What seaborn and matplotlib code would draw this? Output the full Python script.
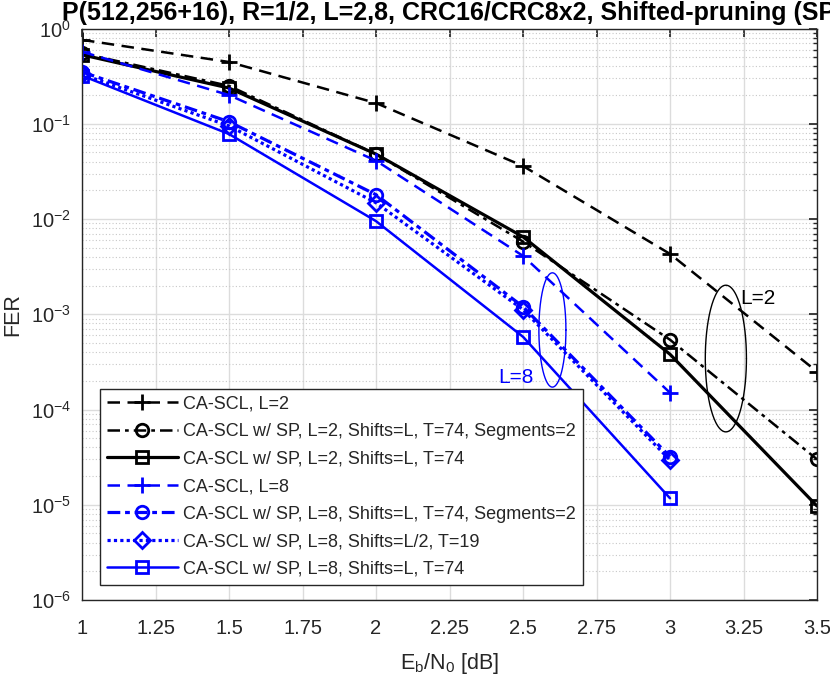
import numpy as np
import pandas as pd
import matplotlib
matplotlib.use("Agg")
import matplotlib.pyplot as plt
import matplotlib.ticker as mticker
import seaborn as sns

# ---- data ----
ebn0 = [1.0, 1.5, 2.0, 2.5, 3.0, 3.5]
ebn0_l8 = [1.0, 1.5, 2.0, 2.5, 3.0]

fer_cascl_l2 = [0.76, 0.445, 0.165, 0.036, 0.0043, 2.5e-4]
fer_sp_l2_seg = [0.55, 0.25, 0.048, 0.0058, 5.4e-4, 3.0e-5]
fer_sp_l2 = [0.53, 0.237, 0.048, 0.0065, 3.8e-4, 9.7e-6]
fer_cascl_l8 = [0.57, 0.20, 0.041, 0.0041, 1.5e-4]
fer_sp_l8_seg = [0.35, 0.105, 0.018, 0.0012, 3.2e-5]
fer_sp_l8_half = [0.33, 0.095, 0.0148, 0.00112, 2.95e-5]
fer_sp_l8 = [0.32, 0.078, 0.0095, 5.8e-4, 1.17e-5]

labels = [
    "CA-SCL, L=2",
    "CA-SCL w/ SP, L=2, Shifts=L, T=74, Segments=2",
    "CA-SCL w/ SP, L=2, Shifts=L, T=74",
    "CA-SCL, L=8",
    "CA-SCL w/ SP, L=8, Shifts=L, T=74, Segments=2",
    "CA-SCL w/ SP, L=8, Shifts=L/2, T=19",
    "CA-SCL w/ SP, L=8, Shifts=L, T=74",
]
xticks = [1, 1.25, 1.5, 1.75, 2, 2.25, 2.5, 2.75, 3, 3.25, 3.5]
xticklabels = ["1", "1.25", "1.5", "1.75", "2", "2.25", "2.5", "2.75", "3", "3.25", "3.5"]
title = "P(512,256+16), R=1/2, L=2,8, CRC16/CRC8x2, Shifted-pruning (SP)"

sns.set_theme(style="white")
plt.rcParams["font.family"] = ["Liberation Sans", "DejaVu Sans"]
plt.rcParams["mathtext.fontset"] = "custom"
plt.rcParams["mathtext.rm"] = "Liberation Sans"
plt.rcParams["mathtext.it"] = "Liberation Sans"

fig = plt.figure(figsize=(8.3, 6.82), dpi=100)
ax = fig.add_axes([82 / 830, 1 - 600 / 682, 735 / 830, 571.5 / 682])

series = [
    (ebn0, fer_cascl_l2, "black", (0, (5, 3)), "+", 1.8, 11),
    (ebn0, fer_sp_l2_seg, "black", (0, (5, 2, 1.5, 2)), "o", 1.8, 9),
    (ebn0, fer_sp_l2, "black", "-", "s", 2.3, 8),
    (ebn0_l8, fer_cascl_l8, "blue", (0, (5, 3)), "+", 1.8, 11),
    (ebn0_l8, fer_sp_l8_seg, "blue", (0, (4, 1.5, 1.5, 1.5)), "o", 2.3, 9),
    (ebn0_l8, fer_sp_l8_half, "blue", (0, (1, 1)), "D", 2.3, 8),
    (ebn0_l8, fer_sp_l8, "blue", "-", "s", 1.8, 8),
]
for (xs, ys, c, ls, mk, lw, ms), lab in zip(series, labels):
    df = pd.DataFrame({"x": xs, "y": ys})
    sns.lineplot(data=df, x="x", y="y", ax=ax, color=c, linestyle=ls,
                 marker=mk, markersize=ms, markerfacecolor="none",
                 markeredgecolor=c, markeredgewidth=2, linewidth=lw,
                 label=lab, legend=False)

ax.set_yscale("log")
ax.set_xlim(1, 3.5)
ax.set_ylim(1e-6, 1)
ax.set_xticks(xticks)
ax.set_xticklabels(xticklabels)
ax.yaxis.set_major_locator(mticker.LogLocator(base=10, numticks=10))
ax.yaxis.set_minor_locator(mticker.LogLocator(base=10, subs=np.arange(2, 10), numticks=100))
ax.yaxis.set_minor_formatter(mticker.NullFormatter())

ax.grid(True, which="major", color="#dcdcdc", linestyle="-", linewidth=1.0)
ax.grid(True, which="minor", axis="y", color="#c8c8c8", linestyle=(0, (1, 2)), linewidth=0.8)
ax.set_axisbelow(True)
for s in ax.spines.values():
    s.set_color("#262626")
    s.set_linewidth(1.0)
ax.tick_params(which="both", direction="in", top=True, right=True, labelsize=14.5,
               colors="#262626", labelcolor="#262626")
ax.tick_params(which="major", length=6)
ax.tick_params(which="minor", length=3)
ax.tick_params(axis="x", pad=14)
ax.tick_params(axis="y", pad=8)

ax.set_xlabel(r"E$_\mathregular{b}$/N$_\mathregular{0}$ [dB]", fontsize=15.5, color="#262626", labelpad=9)
ax.set_ylabel("FER", fontsize=15.5, color="#262626", labelpad=5)

# annotation ellipses (x in dB, y in log10 FER)
t = np.linspace(0, 2 * np.pi, 200)
ex = 3.19 + 0.07 * np.cos(t)
ey = 10 ** (-3.465 + 0.77 * np.sin(t))
ax.plot(ex, ey, color="black", linewidth=1.0)
ax.text(3.24, 10 ** -2.83, "L=2", fontsize=15, color="black", va="center")
bx = 2.60 + 0.046 * np.cos(t)
by = 10 ** (-3.165 + 0.60 * np.sin(t))
ax.plot(bx, by, color="blue", linewidth=1.0)
ax.text(2.415, 10 ** -3.66, "L=8", fontsize=15, color="blue", va="center", zorder=5)

leg = ax.legend(loc="upper left", bbox_to_anchor=(0.0245, 0.370), borderaxespad=0,
                fontsize=13, frameon=True, fancybox=False, edgecolor="#262626",
                framealpha=1, handlelength=3.9, numpoints=1, labelspacing=0.58,
                borderpad=0.4, handletextpad=0.3)
leg.get_frame().set_linewidth(1.0)

fig.text(62 / 830, 1 - 13 / 682, title, fontsize=18, fontweight="bold",
         ha="left", va="center", color="black")

fig.savefig("out.png", dpi=100)
